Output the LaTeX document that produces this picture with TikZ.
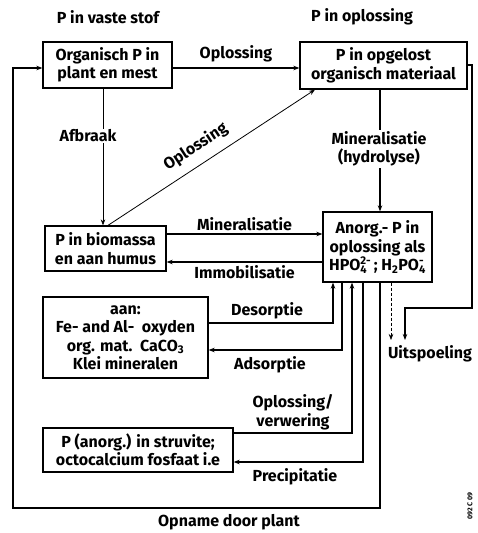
\documentclass[tikz,border=0pt]{standalone}
\usepackage{fontspec}
\setmainfont{Fira Sans}
\usetikzlibrary{arrows.meta,calc}
\newcommand{\supsubx}[2]{\ooalign{\textsuperscript{#1}\cr\textsubscript{#2}}}
\begin{document}
\begin{tikzpicture}[x=1pt,y=-1pt,
  font=\bfseries\fontsize{16}{18.5}\selectfont,
  box/.style={draw, line width=1.3pt, inner sep=0pt, align=center},
  lbl/.style={inner sep=1pt, align=center},
  wlbl/.style={inner sep=1pt, align=center, fill=white},
  arr/.style={line width=1.1pt, -{Stealth[length=6pt,width=4.5pt]}},
  thinarr/.style={line width=0.6pt, -{Stealth[length=6pt,width=4.5pt]}},
]
\useasboundingbox (0,0) rectangle (478,533);

% headers
\node[lbl] (h1) at (108,17) {P in vaste stof};
\node[lbl] (h2) at (362,17) {P in oplossing};

% boxes
\node[box, minimum width=129pt, minimum height=46pt] (b1) at (107.5,65) {Organisch P in\\plant en mest};
\node[box, minimum width=167pt, minimum height=47pt] (b2) at (383.5,65.5) {P in opgelost\\organisch materiaal};
\node[box, minimum width=121pt, minimum height=45pt] (b3) at (105.5,248.5) {P in biomassa\\en aan humus};
\node[box, minimum width=109pt, minimum height=70pt] (b4) at (377.5,247) {Anorg.- P in\\oplossing als\\HPO\supsubx{2-}{4}\,; H\textsubscript{2}PO\supsubx{-}{4}};
\node[box, minimum width=165pt, minimum height=81pt] (b5) at (125.5,337.5) {aan:\\Fe- and Al-\ \ oxyden\\org. mat.\ \ CaCO\textsubscript{3}\\Klei mineralen};
\node[box, minimum width=190pt, minimum height=44pt] (b6) at (138,450) {P (anorg.) in struvite;\\octocalcium fosfaat i.e};

% coordinates
\coordinate (uA) at (405,340);
\coordinate (uB) at (391,340);
\coordinate (r1) at (472,65);
\coordinate (r2) at (472,308);
\coordinate (bl) at (13,508);

% Oplossing top
\draw[arr] (b1.east |- 0,68) -- node[lbl, above=4pt] (lop1) {Oplossing} (b2.west |- 0,68);
% Afbraak
\draw[thinarr] (b1.south -| 103,0) -- (b3.north -| 103,0);
\node[wlbl] (laf) at (88,136) {Afbraak};
% diagonal Oplossing
\draw[arr, line width=0.8pt] (b3.north -| 108,0) -- node[lbl, sloped, above=8pt, pos=0.47] (lop2) {Oplossing} (b2.south -| 315,0);
% Mineralisatie (hydrolyse)
\draw[arr] (b2.south -| 380,0) -- (b4.north -| 380,0);
\node[wlbl] (lmh) at (379,149) {Mineralisatie\\(hydrolyse)};
% Uitspoeling
\draw[arr] (b2.east |- r1) -- (r1) -- (r2) -| (uA);
\draw[thinarr, densely dashed] (b4.south -| uB) -- (uB);
\node[lbl] (lui) at (430,354) {Uitspoeling};
% Mineralisatie / Immobilisatie
\draw[arr] (b3.east |- 0,234) -- node[lbl, above=2pt] (lmi) {Mineralisatie} (b4.west |- 0,234);
\draw[arr] (b4.west |- 0,262) -- node[lbl, below=2pt] (lim) {Immobilisatie} (b3.east |- 0,262);
% Desorptie / Adsorptie
\draw[arr] (b5.east |- 0,323) -| (b4.south -| 333,0);
\node[lbl] (lde) at (267,311) {Desorptie};
\draw[arr] (b4.south -| 342,0) |- (b5.east |- 0,350);
\node[lbl] (lad) at (270,365) {Adsorptie};
% Oplossing/verwering / Precipitatie
\draw[arr] (b6.east |- 0,433) -| (b4.south -| 352,0);
\node[lbl] (lov) at (293,412) {Oplossing/\\verwering};
\draw[arr] (b4.south -| 363,0) |- (b6.east |- 0,462);
\node[lbl] (lpr) at (295,477) {Precipitatie};
% Opname door plant
\draw[arr] (b4.south -| 380,0) |- (bl) |- (b1.west |- 0,68);
\node[lbl] (lop) at (229,522) {Opname door plant};
% code
\node[lbl, rotate=90, font=\bfseries\fontsize{7}{8}\selectfont] (code) at (470,506) {092 C 09};
\end{tikzpicture}
\end{document}
